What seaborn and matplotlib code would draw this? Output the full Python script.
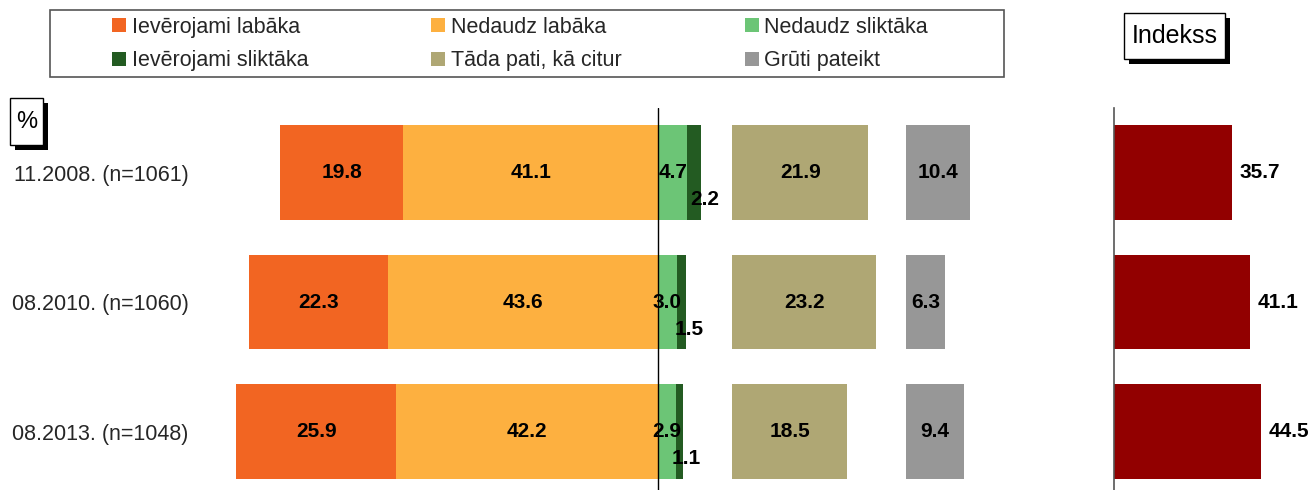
import matplotlib
matplotlib.use("Agg")
import matplotlib.pyplot as plt
from matplotlib.patches import Rectangle, Patch
import seaborn as sns
import pandas as pd

# Survey waves
waves = ["11.2008. (n=1061)", "08.2010. (n=1060)", "08.2013. (n=1048)"]

# Answer shares, %
much_better = [19.8, 22.3, 25.9]
slightly_better = [41.1, 43.6, 42.2]
slightly_worse = [4.7, 3.0, 2.9]
much_worse = [2.2, 1.5, 1.1]
same = [21.9, 23.2, 18.5]
hard_to_say = [10.4, 6.3, 9.4]

# Index values
index_vals = [35.7, 41.1, 44.5]

colors = {
    "Ievērojami labāka": "#F26522",
    "Nedaudz labāka": "#FDB040",
    "Nedaudz sliktāka": "#6CC576",
    "Ievērojami sliktāka": "#235B22",
    "Tāda pati, kā citur": "#AFA774",
    "Grūti pateikt": "#979797",
}
index_color = "#920000"

sns.set_theme(style="white")
plt.rcParams["font.family"] = ["Liberation Sans", "DejaVu Sans"]

W, H = 1314, 490
fig = plt.figure(figsize=(W / 100, H / 100), dpi=100)


def fx(px):
    return px / W


def fy(py):
    return 1 - py / H


BAR_W = 0.73
SAME_OFFSET = 12
HARD_OFFSET = 40
LABEL_FS = 15
TEXT_FS = 15.5

axes_top, axes_h = 107.75, 388.5
ax = fig.add_axes([fx(193), fy(axes_top + axes_h), 806 / W, axes_h / H])
axi = fig.add_axes([fx(1114), fy(axes_top + axes_h), 198 / W, axes_h / H])

df = pd.DataFrame({
    "wave": waves,
    "mb": much_better, "sb": slightly_better,
    "sw": slightly_worse, "mw": much_worse,
    "same": same, "hard": hard_to_say, "idx": index_vals,
})

# Positive answers grow leftwards from zero (layered stack)
df["pos_total"] = -(df["mb"] + df["sb"])
df["pos_inner"] = -df["sb"]
df["neg_total"] = df["sw"] + df["mw"]

common = dict(y="wave", data=df, orient="h", width=BAR_W, ax=ax, linewidth=0)
sns.barplot(x="pos_total", color=colors["Ievērojami labāka"], saturation=1, **common)
sns.barplot(x="pos_inner", color=colors["Nedaudz labāka"], saturation=1, **common)
sns.barplot(x="neg_total", color=colors["Ievērojami sliktāka"], saturation=1, **common)
sns.barplot(x="sw", color=colors["Nedaudz sliktāka"], saturation=1, **common)
sns.barplot(x="same", color=colors["Tāda pati, kā citur"], saturation=1,
            left=SAME_OFFSET, **common)
sns.barplot(x="hard", color=colors["Grūti pateikt"], saturation=1,
            left=HARD_OFFSET, **common)

ax.set_xlim(-75, 55)
ax.set_ylim(2.5, -0.5)
ax.axvline(0, color="black", lw=1, zorder=5)
for s in ax.spines.values():
    s.set_visible(False)
ax.set_xlabel("")
ax.set_ylabel("")
ax.set_xticks([])
ax.tick_params(axis="y", length=0, pad=3, labelsize=TEXT_FS)

lbl = dict(ha="center", va="center", fontsize=LABEL_FS, fontweight="bold",
           color="black", zorder=6)
for i in range(len(waves)):
    mb, sb, sw, mw = much_better[i], slightly_better[i], slightly_worse[i], much_worse[i]
    ax.text(-sb - mb / 2, i, f"{mb:.1f}", **lbl)
    ax.text(-sb / 2, i, f"{sb:.1f}", **lbl)
    ax.text(sw / 2, i, f"{sw:.1f}", **lbl)
    ax.text(sw + mw + 0.6, i + 0.21, f"{mw:.1f}", **lbl)
    ax.text(SAME_OFFSET + same[i] / 2, i, f"{same[i]:.1f}", **lbl)
    ax.text(HARD_OFFSET + hard_to_say[i] / 2, i, f"{hard_to_say[i]:.1f}", **lbl)

# Index panel
sns.barplot(x="idx", y="wave", data=df, orient="h", width=BAR_W, ax=axi,
            color=index_color, saturation=1, linewidth=0)
axi.set_xlim(0, 60)
axi.set_ylim(2.5, -0.5)
for k, s in axi.spines.items():
    s.set_visible(k == "left")
axi.spines["left"].set_color("#555555")
axi.spines["left"].set_linewidth(1.2)
axi.set_xticks([])
axi.set_yticks([])
axi.set_xlabel("")
axi.set_ylabel("")
for i, v in enumerate(index_vals):
    axi.text(v + 2.3, i, f"{v:.1f}", ha="left", va="center",
             fontsize=LABEL_FS, fontweight="bold", color="black")

# Legend
order = ["Ievērojami labāka", "Ievērojami sliktāka", "Nedaudz labāka",
         "Tāda pati, kā citur", "Nedaudz sliktāka", "Grūti pateikt"]
handles = [Patch(facecolor=colors[n], edgecolor="none") for n in order]
fig.legend(handles, order, ncol=3, mode="expand", loc="center left",
           bbox_to_anchor=(fx(112), fy(77), (928 - 112) / W, 66 / H),
           frameon=False, borderaxespad=0, borderpad=0,
           fontsize=TEXT_FS, handlelength=0.66, handleheight=0.66,
           handletextpad=0.25, labelspacing=0.6)
fig.add_artist(Rectangle((fx(50), fy(77)), (1004 - 50) / W, 67 / H,
                         transform=fig.transFigure, fill=False,
                         edgecolor="#555555", lw=1.2))


def shadow_box(x0, y0, x1, y1, text, fs):
    off = 5
    fig.add_artist(Rectangle((fx(x0 + off), fy(y1 + off)), (x1 - x0) / W,
                             (y1 - y0) / H, transform=fig.transFigure,
                             facecolor="black", edgecolor="black", lw=0))
    fig.add_artist(Rectangle((fx(x0), fy(y1)), (x1 - x0) / W, (y1 - y0) / H,
                             transform=fig.transFigure, facecolor="white",
                             edgecolor="black", lw=1))
    fig.text(fx((x0 + x1) / 2), fy((y0 + y1) / 2), text, ha="center",
             va="center", fontsize=fs, color="black")


shadow_box(10, 98, 43, 145, "%", 17)
shadow_box(1124, 13, 1225, 59, "Indekss", 18)

fig.savefig("out.png", dpi=100)
